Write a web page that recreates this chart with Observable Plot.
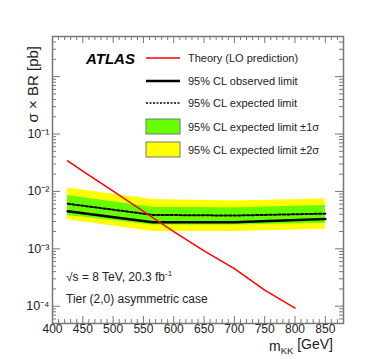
<!DOCTYPE html>
<html><head><meta charset="utf-8">
<script src="https://cdn.jsdelivr.net/npm/d3@7"></script>
<script src="https://cdn.jsdelivr.net/npm/@observablehq/plot@0.6"></script>
<style>body{margin:0;background:#fff;} #chart svg{display:block;}</style>
</head><body><div id="chart"></div>
<script>
// Limit band data (mKK in GeV, sigma x BR in pb)
const mass = [425, 565, 700, 850];
const observed = [0.0045, 0.0029, 0.0029, 0.0033];
const expected = [0.0061, 0.0039, 0.0038, 0.0041];
const plus1 = [0.0085, 0.0053, 0.0052, 0.0057];
const minus1 = [0.0038, 0.0026, 0.0026, 0.0028];
const plus2 = [0.0115, 0.0072, 0.0068, 0.0074];
const minus2 = [0.0032, 0.0020, 0.0020, 0.0022];
// Theory (LO prediction)
const theoryMass = [425, 450, 500, 550, 600, 650, 700, 750, 800];
const theoryXS = [0.034, 0.0225, 0.0101, 0.0045, 0.0020, 0.00092, 0.00045, 0.00019, 0.000093];
// Axis ticks
const xMajor = [400, 450, 500, 550, 600, 650, 700, 750, 800, 850];
const yMajor = [1e-4, 1e-3, 1e-2, 1e-1, 1];
const yLabels = {"0.0001": "10⁻⁴", "0.001": "10⁻³", "0.01": "10⁻²", "0.1": "10⁻¹"};
const legendItems = ["Theory (LO prediction)", "95% CL observed limit", "95% CL expected limit", "95% CL expected limit ±1σ", "95% CL expected limit ±2σ"];

const rows = mass.map((m, i) => ({m, obs: observed[i], exp: expected[i], p1: plus1[i], m1: minus1[i], p2: plus2[i], m2: minus2[i]}));
const theory = theoryMass.map((m, i) => ({m, xs: theoryXS[i]}));
const xMinor = d3.range(400, 881, 10).filter(v => v % 50 !== 0);
const yMinor = [];
for (let e = -5; e <= 0; e++) for (let k = 2; k <= 9; k++) { const v = k * Math.pow(10, e); if (v >= 5e-5 && v <= 5) yMinor.push(+v.toPrecision(3)); }

const FONT = "Liberation Sans, Arial, Helvetica, sans-serif";
const GRAY = "#777";
const W = 374, H = 359, ML = 52, MR = 31, MT = 36, MB = 36;
const IW = W - ML - MR, IH = H - MT - MB;

function legend(index, scales, values, dims) {
  const g = d3.create("svg:g").attr("font-family", FONT).attr("text-anchor", "start");
  g.append("text").attr("x", 86).attr("y", 64).attr("font-size", 15).attr("font-weight", "bold").attr("font-style", "italic").text("ATLAS");
  const ys = [58, 81, 103, 127, 150];
  const x0 = 146, x1 = 180;
  g.append("line").attr("x1", x0).attr("x2", x1).attr("y1", ys[0]).attr("y2", ys[0]).attr("stroke", "#ff0000").attr("stroke-width", 1.5);
  g.append("line").attr("x1", x0).attr("x2", x1).attr("y1", ys[1]).attr("y2", ys[1]).attr("stroke", "#000").attr("stroke-width", 2.5);
  g.append("line").attr("x1", x0).attr("x2", x1).attr("y1", ys[2]).attr("y2", ys[2]).attr("stroke", "#000").attr("stroke-width", 1.5).attr("stroke-dasharray", "2,1.5");
  g.append("rect").attr("x", x0).attr("y", ys[3] - 8).attr("width", x1 - x0).attr("height", 15).attr("fill", "#66ff00").attr("stroke", GRAY);
  g.append("rect").attr("x", x0).attr("y", ys[4] - 8).attr("width", x1 - x0).attr("height", 15).attr("fill", "#ffff00").attr("stroke", GRAY);
  legendItems.forEach((t, i) => {
    g.append("text").attr("x", 188).attr("y", ys[i]).attr("dy", "0.35em").attr("font-size", 11).attr("fill", "#222").text(t);
  });
  g.append("text").attr("x", 66).attr("y", 277).attr("dy", "0.35em").attr("font-size", 12).attr("fill", "#222")
    .call(t => { t.append("tspan").text("√s = 8 TeV, 20.3 fb"); t.append("tspan").attr("font-size", 8).attr("dy", "-0.6em").text("-1"); });
  g.append("text").attr("x", 66).attr("y", 299).attr("dy", "0.35em").attr("font-size", 12).attr("fill", "#222").text("Tier (2,0) asymmetric case");
  g.append("text").attr("transform", "translate(38,46) rotate(-90)").attr("text-anchor", "end").attr("font-size", 15).attr("fill", "#222").text("σ × BR [pb]");
  g.append("text").attr("x", 333).attr("y", 351).attr("text-anchor", "end").attr("font-size", 14).attr("fill", "#222")
    .call(t => { t.append("tspan").text("m"); t.append("tspan").attr("font-size", 9.5).attr("dy", "0.35em").text("KK"); t.append("tspan").attr("dy", "-0.35em").text(" [GeV]"); });
  return g.node();
}

const chart = Plot.plot({
  width: W, height: H,
  marginLeft: ML, marginRight: MR, marginTop: MT, marginBottom: MB,
  style: {fontFamily: FONT, background: "#fff"},
  x: {domain: [400, 880], label: null},
  y: {type: "log", domain: [5e-5, 5], label: null},
  marks: [
    Plot.areaY(rows, {x: "m", y1: "m2", y2: "p2", fill: "#ffff00"}),
    Plot.areaY(rows, {x: "m", y1: "m1", y2: "p1", fill: "#66ff00"}),
    Plot.line(rows, {x: "m", y: "obs", stroke: "#000", strokeWidth: 2.5}),
    Plot.line(rows, {x: "m", y: "exp", stroke: "#000", strokeWidth: 2, strokeDasharray: "2.5,2"}),
    Plot.line(theory, {x: "m", y: "xs", stroke: "#ff0000", strokeWidth: 1.5}),
    // inner ticks, all four sides
    Plot.tickX(xMajor, {x: d => d, insetTop: IH - 7, stroke: GRAY}),
    Plot.tickX(xMinor, {x: d => d, insetTop: IH - 4, stroke: GRAY}),
    Plot.tickX(xMajor, {x: d => d, insetBottom: IH - 7, stroke: GRAY}),
    Plot.tickX(xMinor, {x: d => d, insetBottom: IH - 4, stroke: GRAY}),
    Plot.tickY(yMajor, {y: d => d, insetRight: IW - 8, stroke: GRAY}),
    Plot.tickY(yMinor, {y: d => d, insetRight: IW - 4, stroke: GRAY}),
    Plot.tickY(yMajor, {y: d => d, insetLeft: IW - 8, stroke: GRAY}),
    Plot.tickY(yMinor, {y: d => d, insetLeft: IW - 4, stroke: GRAY}),
    // tick labels
    Plot.axisX({anchor: "bottom", ticks: xMajor, tickSize: 0, tickPadding: 1, tickFormat: d => String(d), fontSize: 12, fill: "#222", label: null}),
    Plot.axisY({anchor: "left", ticks: yMajor.filter(v => v < 1), tickSize: 0, tickPadding: 3, tickFormat: d => yLabels[String(d)], fontSize: 12.5, fill: "#222", label: null}),
    Plot.frame({stroke: GRAY, strokeWidth: 1.5}),
    legend
  ]
});
document.getElementById("chart").appendChild(chart);
</script>
</body></html>
